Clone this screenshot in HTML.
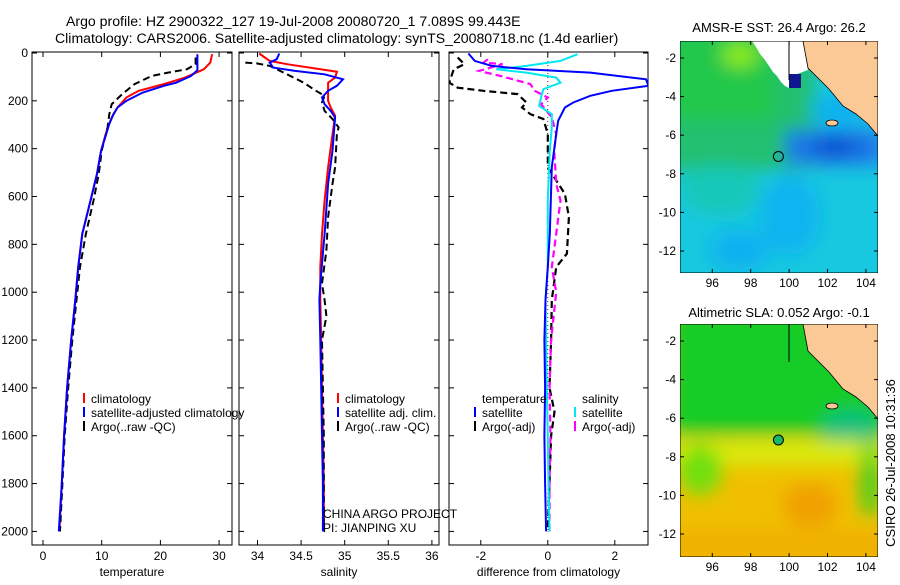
<!DOCTYPE html>
<html><head><meta charset="utf-8">
<style>
html,body{margin:0;padding:0;background:#fff;}
svg text{font-family:"Liberation Sans",sans-serif;font-size:12px;fill:#000;}
</style></head>
<body>
<svg id="fig" width="900" height="580" viewBox="0 0 900 580" xmlns="http://www.w3.org/2000/svg">
<defs>
<filter id="blur" x="-20%" y="-20%" width="140%" height="140%"><feGaussianBlur stdDeviation="9"/></filter>
<clipPath id="c1"><rect x="32" y="52" width="200" height="493"/></clipPath>
<clipPath id="c2"><rect x="239" y="52" width="200" height="493"/></clipPath>
<clipPath id="c3"><rect x="449" y="52" width="199" height="493"/></clipPath>
<clipPath id="m1"><rect x="680" y="41" width="198" height="232"/></clipPath>
<clipPath id="m2"><rect x="680" y="324" width="198" height="233"/></clipPath>
</defs>
<text x="66" y="26" style="font-size:14.1px">Argo profile: HZ 2900322_127 19-Jul-2008 20080720_1 7.089S 99.443E</text>
<text x="55" y="43" style="font-size:14.1px">Climatology: CARS2006. Satellite-adjusted climatology: synTS_20080718.nc (1.4d earlier)</text>

<g id="maps">
<text x="779" y="32" text-anchor="middle" style="font-size:13px">AMSR-E SST: 26.4  Argo: 26.2</text>
<g clip-path="url(#m1)">
<rect x="680" y="41" width="198" height="232" fill="#18c8e0"/>
<g filter="url(#blur)">
<rect x="665" y="30" width="150" height="140" fill="#20c070"/>
<rect x="665" y="30" width="110" height="90" fill="#22c848"/>
<ellipse cx="740" cy="55" rx="18" ry="12" fill="#90ee10"/>
<ellipse cx="720" cy="190" rx="40" ry="25" fill="#14c8b8"/>
<rect x="785" y="130" width="100" height="35" fill="#1a78e8"/>
<ellipse cx="835" cy="147" rx="25" ry="10" fill="#1050d0"/>
<ellipse cx="790" cy="215" rx="30" ry="40" fill="#10b4f0"/>
<ellipse cx="740" cy="250" rx="30" ry="20" fill="#10b0f0"/>
<ellipse cx="840" cy="110" rx="30" ry="15" fill="#10b0f0"/>
</g>
<polygon points="752,41 803,41 808,70 792,76 789,88 785,86 781,82 777,76 773,72 769,66 765,60 760,54 756,47" fill="#fff"/>
<rect x="789" y="74" width="12" height="14" fill="#101890"/>
<polygon points="803,41 878,41 878,136 868,124 856,114 843,106 829,89 816,76 808,68" fill="#fbc996" stroke="#000" stroke-width="0.8"/>
<line x1="789" y1="41" x2="789" y2="80" stroke="#000"/>
<ellipse cx="832" cy="123" rx="6" ry="3" fill="#fbc996" stroke="#000" stroke-width="0.8"/>
<circle cx="778.4" cy="156.5" r="5" fill="none" stroke="#000"/>
<rect x="680" y="41" width="198" height="232" fill="none" stroke="#000"/>
</g>
<text x="779" y="317" text-anchor="middle" style="font-size:13px">Altimetric SLA: 0.052  Argo: -0.1</text>
<g clip-path="url(#m2)">
<rect x="680" y="324" width="198" height="233" fill="#f0c000"/>
<g filter="url(#blur)">
<rect x="670" y="310" width="220" height="125" fill="#14cc28"/>
<ellipse cx="850" cy="430" rx="30" ry="20" fill="#10c080"/>
<rect x="670" y="440" width="220" height="25" fill="#d8ec10"/>
<ellipse cx="700" cy="470" rx="22" ry="25" fill="#70e010"/>
<ellipse cx="810" cy="505" rx="28" ry="22" fill="#f0a000"/>
<ellipse cx="870" cy="480" rx="10" ry="40" fill="#40d020"/>
<rect x="670" y="530" width="220" height="30" fill="#f0b000"/>
</g>
<polygon points="803,324 878,324 878,419 868,407 856,397 843,389 829,372 816,359 808,351" fill="#fbc996" stroke="#000" stroke-width="0.8"/>
<line x1="789" y1="324" x2="789" y2="362" stroke="#000"/>
<ellipse cx="832" cy="406" rx="6" ry="3" fill="#fbc996" stroke="#000" stroke-width="0.8"/>
<circle cx="778.4" cy="440" r="5" fill="#18b868" stroke="#000"/>
<rect x="680" y="324" width="198" height="233" fill="none" stroke="#000"/>
</g>
<text transform="translate(895,463) rotate(-90)" text-anchor="middle" style="font-size:13px">CSIRO 26-Jul-2008 10:31:36</text>
</g>
<g id="axes"></g>
</svg>
<script>
// ---- data ----
const depthTicks=[0,200,400,600,800,1000,1200,1400,1600,1800,2000];
const tempTicks=[0,10,20,30];
const salTicks=[34,34.5,35,35.5,36];
const salTickLabels=["34","34.5","35","35.5","36"];
const diffTicks=[-2,0,2];
// temperature
const tClimD=[5,40,68,103,130,158,186,228,270,311,408,505,617,756,895,1033,1200,1400,1600,1800,2000];
const tClimV=[28.8,28.5,27.4,24.2,20.6,16.3,14.2,12.7,11.7,11,9.9,9.2,8.1,6.7,6,5.5,4.8,4.1,3.6,3.2,2.8];
const tSatD=[5,72,96,124,137,165,200,228,256,297,408,505,617,756,895,1033,1200,1400,1600,1800,2000];
const tSatV=[26.3,26.3,25.2,22.7,20.6,17,14.2,12.7,12,11.3,9.9,9.2,8.1,6.7,6,5.5,4.8,4.1,3.6,3.2,2.7];
const tArgD=[19,47,68,82,96,130,172,214,256,311,408,505,617,756,895,1033,1200,1400,1600,1800,2000];
const tArgV=[26,26,24.5,21.3,18.5,15.6,13.5,11.7,11.3,11,10,9.5,8.6,7.3,6.3,5.7,5,4.3,3.7,3.3,2.9];
// salinity
const sClimD=[2,33,47,78,103,124,200,228,262,339,478,617,756,895,1033,1200,1400,1600,1800,2000];
const sClimV=[34.02,34.14,34.34,34.91,34.89,34.81,34.81,34.84,34.89,34.86,34.81,34.77,34.74,34.72,34.72,34.73,34.74,34.75,34.76,34.76];
const sSatD=[2,26,40,61,75,89,110,137,158,186,214,242,269,408,547,756,964,1033,1200,1400,1600,1800,2000];
const sSatV=[34.25,34.22,34.14,34.18,34.43,34.77,34.98,34.91,34.81,34.74,34.77,34.84,34.89,34.86,34.81,34.77,34.72,34.71,34.72,34.73,34.74,34.75,34.75];
const sArgD=[40,44,54,89,124,158,179,207,242,276,311,339,478,547,686,825,964,1033,1100,1200,1400,1600,1800,2000];
const sArgV=[33.86,34.0,34.14,34.34,34.53,34.67,34.77,34.74,34.77,34.86,34.93,34.91,34.89,34.86,34.81,34.79,34.74,34.77,34.79,34.74,34.75,34.76,34.76,34.76];
// differences
const dTSatD=[2,33,54,68,82,110,137,158,179,207,228,283,339,478,756,895,1033,1200,1400,1600,1800,2000];
const dTSatV=[-2.37,-2.18,-1.67,-0.64,1.27,2.93,3.0,1.91,1.27,0.76,0.51,0.31,0.25,0.12,0.06,0,-0.07,-0.1,-0.08,-0.1,-0.08,-0.05];
const dTArgD=[19,47,68,124,145,158,172,207,228,256,276,339,478,589,686,839,895,1033,1200,1400,1500,1600,1800,2000];
const dTArgV=[-2.69,-2.49,-2.81,-2.94,-2.69,-1.92,-0.9,-0.64,-0.77,-0.52,-0.13,0,0,0.51,0.63,0.57,0.25,0.12,0.1,0.05,0.2,0.1,0.05,0];
const dSSatD=[5,33,54,68,82,103,124,151,186,221,256,311,408,617,895,1033,1200,1400,1600,1800,2000];
const dSSatV=[0.89,0.38,-0.64,-1.54,-0.64,0.25,0.38,-0.13,-0.2,-0.26,0.12,0.12,0.06,0,0,-0.07,-0.05,-0.03,0,0.02,0.05];
const dSArgD=[26,40,47,75,96,130,158,186,214,269,339,408,547,617,756,895,1000,1200,1400,1600,1800,2000];
const dSArgV=[-1.79,-1.92,-1.35,-2.05,-1.41,-0.52,-0.39,0,-0.2,0.12,0.25,0.19,0.25,0.38,0.25,0.12,0.25,0.1,0.05,0.08,0.05,0.05];

// ---- scales ----
const yD=d=>53+d*0.2392;
const xT=v=>43+v*5.87;
const xS=v=>257.5+(v-34)*87.2;
const xDf=v=>547.8+v*33.5;
const NS='http://www.w3.org/2000/svg';
const root=document.getElementById('axes');
function mk(tag,attrs,parent){const e=document.createElementNS(NS,tag);for(const k in attrs)e.setAttribute(k,attrs[k]);(parent||root).appendChild(e);return e;}
function line(xs,ds,sx,color,dash,w,g){
  const pts=ds.map((d,i)=>sx(xs[i]).toFixed(1)+','+yD(d).toFixed(1)).join(' ');
  const p=mk('polyline',{points:pts,fill:'none',stroke:color,'stroke-width':w||2,'stroke-dasharray':dash||'none'},g);
  return p;
}
const panels=[
 {x0:32,x1:232,clip:'c1',sx:xT,ticks:tempTicks,labels:tempTicks.map(String),xl:'temperature',name:'temperature-panel'},
 {x0:239,x1:439,clip:'c2',sx:xS,ticks:salTicks,labels:salTickLabels,xl:'salinity',name:'salinity-panel'},
 {x0:449,x1:648,clip:'c3',sx:xDf,ticks:diffTicks,labels:diffTicks.map(String),xl:'difference from climatology',name:'difference-panel'}
];
panels.forEach((p,pi)=>{
  const g=mk('g',{});
  
  
  const fr=mk('rect',{x:p.x0,y:52,width:p.x1-p.x0,height:493,fill:'none',stroke:'#000','stroke-width':1},g);
  
  
  depthTicks.forEach(d=>{
    mk('line',{x1:p.x0,x2:p.x0+5,y1:yD(d),y2:yD(d),stroke:'#000'},g);
    mk('line',{x1:p.x1,x2:p.x1-5,y1:yD(d),y2:yD(d),stroke:'#000'},g);
    if(pi===0){const t=mk('text',{x:28,y:yD(d)+4,'text-anchor':'end'},g);t.textContent=d;
      
      }
  });
  p.ticks.forEach((v,i)=>{
    const x=p.sx(v);
    mk('line',{x1:x,x2:x,y1:545,y2:540,stroke:'#000'},g);
    mk('line',{x1:x,x2:x,y1:52,y2:57,stroke:'#000'},g);
    const t=mk('text',{x:x,y:560,'text-anchor':'middle'},g);t.textContent=p.labels[i];
    
    
  });
  const xl=mk('text',{x:(p.x0+p.x1)/2,y:576,'text-anchor':'middle'},g);xl.textContent=p.xl;
  
  
  p.g=mk('g',{'clip-path':'url(#'+p.clip+')'},g);
});
// series
const s1=panels[0].g, s2=panels[1].g, s3=panels[2].g;
let e;
e=line(tClimV,tClimD,xT,'#ff0000',null,2,s1);
e=line(tArgV,tArgD,xT,'#000',"7,4",2,s1);
e=line(tSatV,tSatD,xT,'#0000ff',null,2,s1);
e=line(sClimV,sClimD,xS,'#ff0000',null,2,s2);
e=line(sArgV,sArgD,xS,'#000',"7,4",2,s2);
e=line(sSatV,sSatD,xS,'#0000ff',null,2,s2);
mk('line',{x1:xDf(0),x2:xDf(0),y1:yD(0),y2:yD(2000),stroke:'#000','stroke-width':0.8,'stroke-dasharray':'1,3'},s3);
e=line(dTArgV,dTArgD,xDf,'#000',"7,4",2.2,s3);
e=line(dSArgV,dSArgD,xDf,'#ff00ff',"7,4",2.2,s3);
e=line(dSSatV,dSSatD,xDf,'#00e8f0',null,2,s3);
e=line(dTSatV,dTSatD,xDf,'#0000ff',null,2,s3);
// legends
function leg(x,y,color,label,name){
  const g=mk('g',{});
  
  
  mk('line',{x1:x,x2:x,y1:y-10,y2:y,stroke:color,'stroke-width':2},g);
  const t=mk('text',{x:x+7,y:y},g);t.textContent=label;
  return g;
}
leg(84,403,'#ff0000','climatology','legend-entry-climatology');
leg(84,417,'#0000ff','satellite-adjusted climatology','legend-entry-satellite');
leg(84,431,'#000','Argo(..raw -QC)','legend-entry-argo');
leg(338,403,'#ff0000','climatology','legend-entry-climatology');
leg(338,417,'#0000ff','satellite adj. clim.','legend-entry-satellite');
leg(338,431,'#000','Argo(..raw -QC)','legend-entry-argo');
let t=mk('text',{x:482,y:403});t.textContent='temperature';


t=mk('text',{x:582,y:403});t.textContent='salinity';


leg(475,417,'#0000ff','satellite','legend-entry-temp-satellite');
leg(475,431,'#000','Argo(-adj)','legend-entry-temp-argo');
leg(575,417,'#00e8f0','satellite','legend-entry-sal-satellite');
leg(575,431,'#ff00ff','Argo(-adj)','legend-entry-sal-argo');
t=mk('text',{x:323,y:518});t.textContent='CHINA ARGO PROJECT';


t=mk('text',{x:323,y:532});t.textContent='PI: JIANPING XU';


// map ticks
[[41,273],[324,557]].forEach(([y0,y1],mi)=>{
  const g=mk('g',{});
  
  
  [96,98,100,102,104].forEach(lon=>{
    const x=712.3+(lon-96)*19.2;
    mk('line',{x1:x,x2:x,y1:y1,y2:y1-4,stroke:'#000'},g);
    mk('line',{x1:x,x2:x,y1:y0,y2:y0+4,stroke:'#000'},g);
    const tt=mk('text',{x:x,y:y1+14,'text-anchor':'middle'},g);tt.textContent=lon;
  });
  [-2,-4,-6,-8,-10,-12].forEach(lat=>{
    const y=y0+17+(-2-lat)*19.3;
    mk('line',{x1:680,x2:684,y1:y,y2:y,stroke:'#000'},g);
    mk('line',{x1:878,x2:874,y1:y,y2:y,stroke:'#000'},g);
    const tt=mk('text',{x:676,y:y+4,'text-anchor':'end'},g);tt.textContent=lat;
  });
});
</script>
</body></html>
